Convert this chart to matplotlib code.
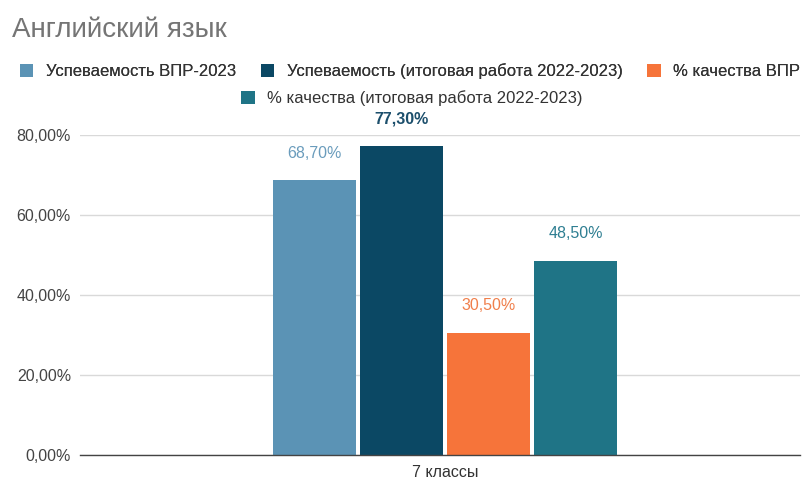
import matplotlib
matplotlib.use("Agg")
import matplotlib.pyplot as plt
from matplotlib.patches import Patch

plt.rcParams['font.family'] = ['Liberation Sans', 'DejaVu Sans']

title = "Английский язык"
category = "7 классы"
series = ["Успеваемость ВПР-2023",
          "Успеваемость (итоговая работа 2022-2023)",
          "% качества ВПР",
          "% качества (итоговая работа 2022-2023)"]
values = [68.7, 77.3, 30.5, 48.5]
colors = ["#5b93b5", "#0b4864", "#f6743a", "#1f7486"]
label_colors = ["#6a9cbc", "#1c4f6c", "#f07f4b", "#2f7f92"]
yticks = [0, 20, 40, 60, 80]

fig = plt.figure(figsize=(8.11, 4.79), dpi=100)
ax = fig.add_axes([80/811, 24/479, 720/811, 320/479])

step = 87/720
width = 83/720
n = len(values)
for i, (v, c) in enumerate(zip(values, colors)):
    x = (i - (n-1)/2) * step
    ax.bar(x, v, width=width, color=c, zorder=3)
    txt = f"{v:.2f}".replace('.', ',') + "%"
    ax.annotate(txt, (x, v), xytext=(0, 19.5), textcoords='offset points',
                ha='center', va='center', fontsize=11.5,
                color=label_colors[i], fontweight='bold' if i == 1 else 'normal',
                annotation_clip=False)

ax.set_xlim(-(445-80)/720, (800-445)/720)
ax.set_ylim(0, 80)
ax.set_yticks(yticks)
ax.set_yticklabels([f"{t:.2f}".replace('.', ',') + "%" for t in yticks],
                   fontsize=11.5, color="#444444")
ax.set_xticks([0])
ax.set_xticklabels([category], fontsize=11.5, color="#333333")
ax.tick_params(axis='y', length=0, pad=6.5)
ax.tick_params(axis='x', length=0, pad=7)
ax.grid(axis='y', color="#d9d9d9", linewidth=1, zorder=0)
for s in ['top', 'right', 'left']:
    ax.spines[s].set_visible(False)
ax.spines['bottom'].set_color("#444444")
ax.spines['bottom'].set_linewidth(1)
ax.spines['bottom'].set_zorder(4)

fig.text(12/811, 1 - 30/479, title, fontsize=20, color="#757575", va='center', ha='left')

handles = [Patch(facecolor=c, edgecolor='none') for c in colors]
leg_kw = dict(frameon=False, fontsize=12, handlelength=0.8, handleheight=0.8,
              handletextpad=0.75, columnspacing=1.5, borderpad=0, loc='center')
leg1 = fig.legend(handles[:3], series[:3], ncol=3,
                  bbox_to_anchor=(410/811, 1 - 71/479), **leg_kw)
for t in leg1.get_texts():
    t.set_color("#333333")
leg2 = fig.legend(handles[3:], series[3:], ncol=1,
                  bbox_to_anchor=(412/811, 1 - 98/479), **leg_kw)
for t in leg2.get_texts():
    t.set_color("#333333")
fig.add_artist(leg1)

fig.savefig("out.png", dpi=100, facecolor="white")
